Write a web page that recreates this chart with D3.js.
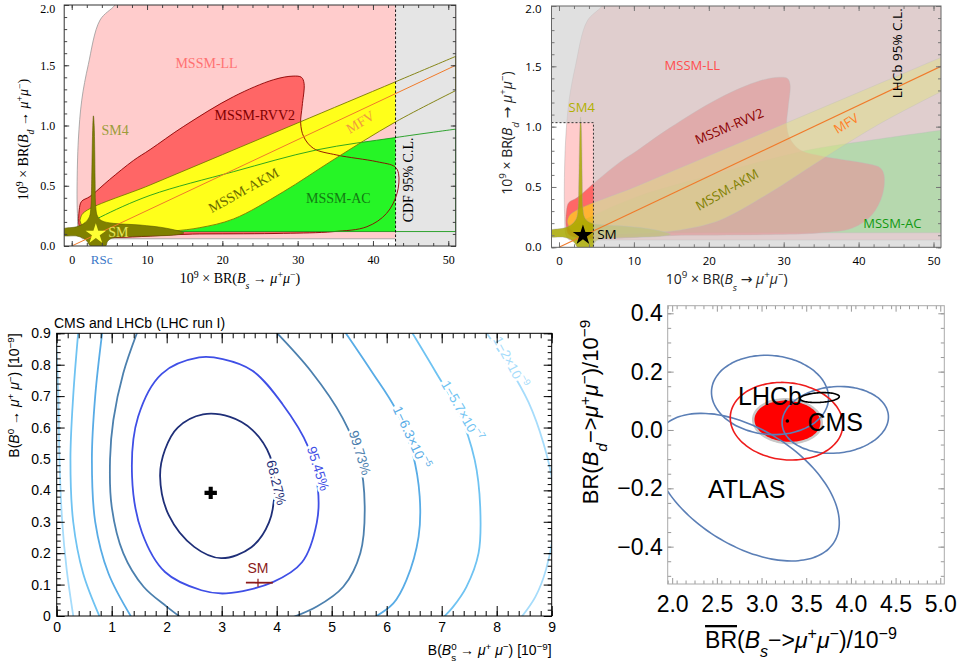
<!DOCTYPE html>
<html>
<head>
<meta charset="utf-8">
<script src="https://cdn.jsdelivr.net/npm/d3@7"></script>
<style>
  body { margin: 0; background: #fff; }
  svg { display: block; }
</style>
</head>
<body>
<svg id="chart" width="963" height="662"></svg>
<script>
"use strict";

// ---------- top panels: 10^9 BR(Bs->mumu) vs 10^9 BR(Bd->mumu) ----------
const llBoundary = [[6.6, 2.1], [5.75, 2.0], [3.76, 1.875], [2.2, 1.505], [1.33, 1.21], [0.88, 0.88],
                    [0.71, 0.49], [0.75, 0.27], [0.93, 0.105], [1.4, 0.06]];
const llBottom = 0.06;
const rvv2Outline = [[1.0, 0.16], [1.0, 0.30], [1.3, 0.37], [2.4, 0.41], [5, 0.55], [8.2, 0.71], [10.4, 0.80],
                     [14.8, 0.99], [21.5, 1.24], [26.8, 1.38], [29.4, 1.41], [30.5, 1.40], [30.85, 1.35],
                     [30.6, 1.16], [30.4, 1.02], [30.8, 0.907], [32.1, 0.81], [35.2, 0.755], [40.5, 0.70],
                     [42.9, 0.658], [43.4, 0.60], [43.2, 0.437], [41.8, 0.27], [39.2, 0.16], [34.7, 0.119],
                     [28.1, 0.105], [17, 0.1], [1.5, 0.097]];
const akmUpper = [[1.1, 0.21], [1.5, 0.272], [10.4, 0.506], [20, 0.758], [30, 1.021], [43, 1.363], [51, 1.574]];
const akmLower = [[51, 1.29], [43, 1.03], [34.7, 0.714], [28.1, 0.45], [21.5, 0.225], [17, 0.152],
                  [13.5, 0.125], [8, 0.11], [3, 0.115], [1.4, 0.15]];
const acUpper = [[1.2, 0.15], [3.8, 0.24], [10.4, 0.42], [21.5, 0.617], [32.5, 0.797], [43, 0.9], [51, 0.97]];
const acLower = [[51, 0.12], [1.5, 0.12]];
const sm4Outline = [[-1.2, 0.138], [0.66, 0.16], [1.77, 0.194], [2.35, 0.243], [2.55, 0.33], [2.65, 0.55],
                    [2.72, 0.8], [2.8, 1.0], [2.88, 1.08], [2.98, 1.0], [3.05, 0.8], [3.1, 0.55],
                    [3.19, 0.326], [3.41, 0.249], [3.98, 0.21], [5.53, 0.188], [9.07, 0.174], [12.6, 0.147],
                    [14.9, 0.108], [13.5, 0.091], [10.4, 0.083], [7.3, 0.077], [5.3, 0.064], [4.73, 0.036],
                    [4.5, 0.0], [2.5, 0.0], [2.08, 0.036], [1.55, 0.064], [0.66, 0.083], [-1.2, 0.091]];
const mfvLine = [[0, 0], [51, 1.5]];
const smPoint = [3.2, 0.1];
const cdfLimit = 43;
const lhcbBox = [4.6, 1.033];
const rscValue = 3.98;
const topXTicks = [0, 10, 20, 30, 40, 50];
const topYTicks = [0, 0.5, 1, 1.5, 2];

// ---------- bottom left: CMS+LHCb likelihood contours ----------
const c68 = [[2.66, 0.642], [3.15, 0.634], [3.56, 0.592], [3.88, 0.508], [3.96, 0.403], [3.86, 0.298],
             [3.54, 0.219], [2.99, 0.184], [2.5, 0.22], [2.04, 0.32], [1.88, 0.445], [1.97, 0.53], [2.2, 0.6]];
const c95 = [[2.59, 0.823], [3.02, 0.818], [3.56, 0.781], [4.1, 0.676], [4.57, 0.539], [4.75, 0.403],
             [4.73, 0.298], [4.46, 0.171], [3.93, 0.108], [3.08, 0.072], [2.63, 0.082], [1.97, 0.14],
             [1.55, 0.266], [1.37, 0.445], [1.48, 0.634], [1.91, 0.771]];
const c99Left = [[1.5, 0.92], [1.21, 0.773], [1.03, 0.624], [0.97, 0.5], [1.0, 0.348], [1.21, 0.2],
                 [1.58, 0.093], [2.0, 0.03], [2.3, -0.01]];
const c99Right = [[3.9, 0.92], [4.62, 0.78], [5.2, 0.63], [5.5, 0.5], [5.6, 0.35], [5.52, 0.2],
                  [5.21, 0.093], [4.73, 0.03], [4.2, -0.01]];
const c63Left = [[0.84, 0.92], [0.7, 0.7], [0.64, 0.5], [0.7, 0.3], [0.94, 0.136], [1.38, -0.01]];
const c63Right = [[5.18, 0.92], [5.72, 0.78], [6.17, 0.656], [6.47, 0.518], [6.6, 0.38], [6.58, 0.253],
                  [6.36, 0.115], [6.12, 0.04], [5.72, -0.01]];
const c57Left = [[0.4, 0.92], [0.3, 0.7], [0.25, 0.5], [0.3, 0.3], [0.48, 0.136], [0.8, -0.01]];
const c57Right = [[6.4, 0.92], [6.88, 0.78], [7.32, 0.645], [7.6, 0.497], [7.7, 0.348], [7.67, 0.2],
                  [7.45, 0.093], [7.21, 0.03], [7.0, -0.01]];
const c2Left = [[-0.02, 0.92], [0.03, 0.7], [0.05, 0.5], [0.1, 0.3], [0.18, 0.15], [0.31, -0.01]];
const c2Right = [[7.74, 0.92], [8.2, 0.8], [8.58, 0.68], [8.85, 0.55], [9.02, 0.42], [9.05, 0.3],
                 [8.9, 0.15], [8.7, 0.06], [8.42, -0.01]];
const bestFit = [2.8, 0.392];
const smBs = 3.66, smBsRange = [3.44, 3.93], smBd = 0.106;
const p3XTicks = [0, 1, 2, 3, 4, 5, 6, 7, 8, 9];
const p3YTicks = [0, 0.1, 0.2, 0.3, 0.4, 0.5, 0.6, 0.7, 0.8, 0.9];

// ---------- bottom right: experiment ellipses ----------
const atlasEll = {cx: 2.83, cy: -0.196, ax: 1.04, ay: 0.253, phase: 119};
const cmsEll = {cx: 3.825, cy: 0.0345, ax: 0.595, ay: 0.1145, phase: 85};
const lhcbEll = {cx: 3.095, cy: 0.12, ax: 0.655, ay: 0.136, phase: 94};
const combEll = {cx: 3.28, cy: 0.03, ax: 0.63, ay: 0.133, phase: 95};
const combCore = {cx: 3.29, cy: 0.03, ax: 0.383, ay: 0.075, phase: 94};
const smallEll = {cx: 3.65, cy: 0.111, ax: 0.22, ay: 0.017, phase: 78};
const combPoint = [3.289, 0.031];
const p4XTicks = [2, 2.5, 3, 3.5, 4, 4.5, 5];
const p4YTicks = [-0.4, -0.2, 0, 0.2, 0.4];

const svg = d3.select("#chart");
const defs = svg.append("defs");

const SERIF = "Liberation Serif, DejaVu Serif, serif";
const SANS = "Liberation Sans, Arial, sans-serif";
const OPEN = "Open Sans, DejaVu Sans, sans-serif";

function rich(t, parts) {
  parts.forEach(p => {
    const s = typeof p === "string" ? p : p[0];
    const k = typeof p === "string" ? "" : p[1];
    const ts = t.append("tspan").text(s);
    if (k.includes("i")) ts.attr("font-style", "italic");
    if (k.includes("^")) ts.attr("baseline-shift", "super").attr("font-size", "70%");
    if (k.includes("_")) ts.attr("baseline-shift", "sub").attr("font-size", "70%");
    if (k.includes("k")) ts.attr("dx", "-0.55em");
    if (k.includes("o")) ts.attr("text-decoration", "overline");
  });
}

function label(g, px, py, parts, o) {
  const t = g.append("text")
    .attr("transform", `translate(${px},${py})` + (o.rotate ? ` rotate(${o.rotate})` : ""))
    .attr("text-anchor", o.anchor || "middle")
    .attr("dominant-baseline", o.baseline || "central")
    .attr("font-family", o.font).attr("font-size", o.size)
    .attr("fill", o.color || "#000");
  if (o.weight) t.attr("font-weight", o.weight);
  if (o.halo) t.attr("stroke", "#fff").attr("stroke-width", o.halo).attr("paint-order", "stroke");
  rich(t, typeof parts === "string" ? [parts] : parts);
  return t;
}

function shape(sx, sy, pts, closed) {
  return d3.line().x(d => sx(d[0])).y(d => sy(d[1]))
    .curve(closed ? d3.curveCatmullRomClosed.alpha(0.5) : d3.curveCatmullRom.alpha(0.5))(pts);
}
// band: smooth upper edge (left->right), straight join, smooth lower edge (right->left)
function band(sx, sy, upper, lower) {
  return shape(sx, sy, upper, false) + "L" + shape(sx, sy, lower, false).slice(1) + "Z";
}

function clipFor(id, sx, sy) {
  defs.append("clipPath").attr("id", id).append("rect")
    .attr("x", sx.range()[0]).attr("y", sy.range()[1])
    .attr("width", sx.range()[1] - sx.range()[0]).attr("height", sy.range()[0] - sy.range()[1]);
  return `url(#${id})`;
}

function frameAxes(g, sx, sy, o) {
  const L = sx.range()[0], R = sx.range()[1], B = sy.range()[0], T = sy.range()[1];
  const ticks = (axis, tr, vals, len, fmt) => {
    const a = g.append("g").attr("transform", tr)
      .call(axis.tickValues(vals).tickSize(-len).tickPadding(o.pad).tickFormat(fmt || (() => "")));
    a.select(".domain").remove();
    a.attr("font-family", o.font).attr("font-size", o.fontSize);
    a.selectAll("line").attr("stroke", o.tickColor).attr("stroke-width", o.tickWidth || 1);
    a.selectAll("text").attr("fill", "#000");
    return a;
  };
  ticks(d3.axisBottom(sx), `translate(0,${B})`, o.xMinor, o.minorLen);
  ticks(d3.axisBottom(sx), `translate(0,${B})`, o.xMajor, o.majorLen, o.xFmt);
  ticks(d3.axisTop(sx), `translate(0,${T})`, o.xMinor, o.minorLen);
  ticks(d3.axisTop(sx), `translate(0,${T})`, o.xMajor, o.majorLen);
  ticks(d3.axisLeft(sy), `translate(${L},0)`, o.yMinor, o.minorLenY || o.minorLen);
  const yl = ticks(d3.axisLeft(sy), `translate(${L},0)`, o.yMajor, o.majorLenY || o.majorLen, o.yFmt);
  ticks(d3.axisRight(sy), `translate(${R},0)`, o.yMinor, o.minorLenY || o.minorLen);
  ticks(d3.axisRight(sy), `translate(${R},0)`, o.yMajor, o.majorLenY || o.majorLen);
  g.append("rect").attr("x", L).attr("y", T).attr("width", R - L).attr("height", B - T)
    .attr("fill", "none").attr("stroke", o.frameColor).attr("stroke-width", o.frameWidth || 1);
  return yl;
}

const brTitle = q => ["10", ["9", "^"], " × BR(", ["B", "i"], [q, "_i"], " → ", ["μ", "i"], ["+", "^"],
                      ["μ", "i"], ["−", "^"], ")"];

// ================= panel 1 (top left) =================
const x1 = d3.scaleLinear().domain([-1, 51]).range([64.2, 455.8]);
const y1 = d3.scaleLinear().domain([0, 2]).range([246, 5]);
const g1 = svg.append("g");
const c1 = g1.append("g").attr("clip-path", clipFor("clip1", x1, y1));

c1.append("path").attr("d", shape(x1, y1, llBoundary, false) +
    `L${x1(51)},${y1(llBottom)}L${x1(51)},${y1(2.1)}Z`).attr("fill", "#ffcccc");
c1.append("path").attr("d", shape(x1, y1, rvv2Outline, true)).attr("fill", "#ff6666");
c1.append("path").attr("d", band(x1, y1, acUpper, acLower)).attr("fill", "#26f526");
c1.append("path").attr("d", band(x1, y1, akmUpper, akmLower)).attr("fill", "#ffff1a");
c1.append("rect").attr("x", x1(cdfLimit)).attr("y", y1(2)).attr("width", x1(51) - x1(cdfLimit))
  .attr("height", y1(0) - y1(2)).attr("fill", "#e5e5e5");

c1.append("path").attr("d", shape(x1, y1, llBoundary, false) + `L${x1(cdfLimit)},${y1(llBottom)}`)
  .attr("fill", "none").attr("stroke", "#999").attr("stroke-width", 0.8);
c1.append("path").attr("d", shape(x1, y1, rvv2Outline, true))
  .attr("fill", "none").attr("stroke", "#8b0000").attr("stroke-width", 0.9);
c1.append("path").attr("d", band(x1, y1, acUpper, acLower))
  .attr("fill", "none").attr("stroke", "#1c9c1c").attr("stroke-width", 0.9);
c1.append("path").attr("d", band(x1, y1, akmUpper, akmLower))
  .attr("fill", "none").attr("stroke", "#7a7a00").attr("stroke-width", 0.9);
c1.append("path").attr("d", shape(x1, y1, sm4Outline, true))
  .attr("fill", "#808000").attr("stroke", "#5c5c00").attr("stroke-width", 0.6);
c1.append("path").attr("d", d3.line().x(d => x1(d[0])).y(d => y1(d[1]))(mfvLine))
  .attr("fill", "none").attr("stroke", "#f07a2a").attr("stroke-width", 1);
c1.append("line").attr("x1", x1(cdfLimit)).attr("x2", x1(cdfLimit)).attr("y1", y1(0)).attr("y2", y1(2))
  .attr("stroke", "#000").attr("stroke-width", 0.9).attr("stroke-dasharray", "2.5,2");
c1.append("path").attr("d", d3.symbol(d3.symbolStar, 130)())
  .attr("transform", `translate(${x1(smPoint[0])},${y1(smPoint[1])})`).attr("fill", "#ffff33");

label(g1, x1(17.9), y1(1.516), "MSSM-LL", {font: SERIF, size: 14, color: "#ff7272"});
label(g1, x1(24.3), y1(1.087), "MSSM-RVV2", {font: SERIF, size: 14, color: "#800000"});
label(g1, x1(5.75), y1(0.963), "SM4", {font: SERIF, size: 14, color: "#9c9c3a"});
label(g1, x1(38.3), y1(1.03), "MFV", {font: SERIF, size: 14, color: "#f09a40", rotate: -31});
label(g1, x1(22.8), y1(0.465), "MSSM-AKM", {font: SERIF, size: 14, color: "#6b6b00", rotate: -29});
label(g1, x1(35.4), y1(0.40), "MSSM-AC", {font: SERIF, size: 14, color: "#137a13"});
label(g1, x1(44.6), y1(0.548), "CDF 95% C.L.", {font: SERIF, size: 14, color: "#000", rotate: -90});
label(g1, x1(6.2), y1(0.119), "SM", {font: SERIF, size: 14, color: "#e6e65a"});

frameAxes(g1, x1, y1, {
  xMajor: topXTicks, xMinor: d3.range(0, 52, 2), yMajor: topYTicks, yMinor: d3.range(0, 2.01, 0.1),
  majorLen: 5, minorLen: 3, pad: 9, font: SERIF, fontSize: 12, tickColor: "#444", frameColor: "#333",
  xFmt: d3.format("d"), yFmt: d3.format(".1f")
}).selectAll(".tick text").filter(d => d === 2).attr("dy", "0.6em");
g1.append("text").attr("x", x1(rscValue)).attr("y", 263.6).attr("text-anchor", "middle")
  .attr("font-family", SERIF).attr("font-size", 13).attr("fill", "#3a78c8").text("RSc");
label(g1, 240, 283, brTitle("s"), {font: SERIF, size: 14, baseline: "alphabetic"});
label(g1, 28, 139.5, brTitle("d"), {font: SERIF, size: 14, baseline: "alphabetic", rotate: -90});

// ================= panel 2 (top right) =================
const x2 = d3.scaleLinear().domain([-1, 51]).range([551.5, 941]);
const y2 = d3.scaleLinear().domain([0, 2]).range([247.3, 6]);
const g2 = svg.append("g");
const c2 = g2.append("g").attr("clip-path", clipFor("clip2", x2, y2));
const soft = sel => sel.attr("stroke", "#999").attr("stroke-opacity", 0.45).attr("stroke-width", 0.8);

soft(c2.append("path").attr("d", shape(x2, y2, llBoundary, false) +
    `L${x2(52)},${y2(llBottom)}L${x2(52)},${y2(2.1)}Z`).attr("fill", "#ffcccc"));
soft(c2.append("path").attr("d", band(x2, y2, acUpper, acLower)).attr("fill", "#22ff22").attr("fill-opacity", 0.55));
soft(c2.append("path").attr("d", shape(x2, y2, rvv2Outline, true)).attr("fill", "#ff4040").attr("fill-opacity", 0.72));
soft(c2.append("path").attr("d", band(x2, y2, akmUpper, akmLower)).attr("fill", "#ffff00").attr("fill-opacity", 0.5));
soft(c2.append("path").attr("d", shape(x2, y2, sm4Outline, true)).attr("fill", "#a8a800").attr("fill-opacity", 0.85));

const L2 = x2.range()[0], R2 = x2.range()[1], B2 = y2.range()[0], T2 = y2.range()[1];
c2.append("path")
  .attr("d", `M${L2},${T2}H${R2}V${B2}H${L2}Z M${L2},${y2(lhcbBox[1])}H${x2(lhcbBox[0])}V${B2}H${L2}Z`)
  .attr("fill", "#cfcfcf").attr("fill-opacity", 0.65).attr("fill-rule", "evenodd");
c2.append("path").attr("d", d3.line().x(d => x2(d[0])).y(d => y2(d[1]))(mfvLine))
  .attr("fill", "none").attr("stroke", "#f07a2a").attr("stroke-width", 1.1);
c2.append("path").attr("d", `M${L2},${y2(lhcbBox[1])}H${x2(lhcbBox[0])}V${B2}`)
  .attr("fill", "none").attr("stroke", "#333").attr("stroke-width", 1).attr("stroke-dasharray", "2,2");
c2.append("path").attr("d", d3.symbol(d3.symbolStar, 130)())
  .attr("transform", `translate(${x2(smPoint[0])},${y2(smPoint[1])})`).attr("fill", "#000");

label(g2, x2(17.8), y2(1.511), "MSSM-LL", {font: OPEN, size: 13, color: "#ff4d4d"});
label(g2, x2(22.7), y2(1.005), "MSSM-RVV2", {font: OPEN, size: 13, color: "#8b0000", rotate: -23});
label(g2, x2(38.3), y2(1.028), "MFV", {font: OPEN, size: 13, color: "#ff7f27", rotate: -31});
label(g2, x2(22.4), y2(0.48), "MSSM-AKM", {font: OPEN, size: 13, color: "#808000", rotate: -29.5});
label(g2, x2(44.5), y2(0.204), "MSSM-AC", {font: OPEN, size: 13, color: "#119911"});
label(g2, x2(45.1), y2(1.608), "LHCb 95% C.L.", {font: OPEN, size: 13.5, color: "#000", rotate: -90});
label(g2, x2(3.03), y2(1.165), "SM4", {font: OPEN, size: 13, color: "#b0b000"});
label(g2, x2(5.1), y2(0.108), "SM", {font: OPEN, size: 13.5, color: "#000", anchor: "start"});

frameAxes(g2, x2, y2, {
  xMajor: topXTicks, xMinor: d3.range(0, 52, 2), yMajor: topYTicks, yMinor: d3.range(0, 2.01, 0.1),
  majorLen: 5, minorLen: 3, pad: 10, font: OPEN, fontSize: 11.5, tickColor: "#777", frameColor: "#666",
  xFmt: d3.format("d"), yFmt: d3.format(".1f")
}).selectAll(".tick text").filter(d => d === 2).attr("dy", "0.6em");
label(g2, 726.7, 284, brTitle("s"), {font: OPEN, size: 14, baseline: "alphabetic", color: "#222"});
label(g2, 512, 133, brTitle("d"), {font: OPEN, size: 14, baseline: "alphabetic", rotate: -90, color: "#222"});

// ================= panel 3 (bottom left) =================
const x3 = d3.scaleLinear().domain([0, 9]).range([56.7, 551.7]);
const y3 = d3.scaleLinear().domain([0, 0.9]).range([616, 333.3]);
const g3 = svg.append("g");
const c3 = g3.append("g").attr("clip-path", clipFor("clip3", x3, y3));
const contour = (pts, closed, color) => c3.append("path").attr("d", shape(x3, y3, pts, closed))
  .attr("fill", "none").attr("stroke", color).attr("stroke-width", 1.8);

const col2 = "#a6dcfb", col57 = "#6fc3f2", col63 = "#58ace6", col99 = "#4c80ae", col95 = "#3f4fe6", col68 = "#1f2f78";
[c2Left, c2Right].forEach(p => contour(p, false, col2));
[c57Left, c57Right].forEach(p => contour(p, false, col57));
[c63Left, c63Right].forEach(p => contour(p, false, col63));
[c99Left, c99Right].forEach(p => contour(p, false, col99));
contour(c95, true, col95);
contour(c68, true, col68);

c3.append("path").attr("d", d3.symbol(d3.symbolCross, 85)())
  .attr("transform", `translate(${x3(bestFit[0])},${y3(bestFit[1])})`).attr("fill", "#000");
c3.append("line").attr("x1", x3(smBsRange[0])).attr("x2", x3(smBsRange[1]))
  .attr("y1", y3(smBd)).attr("y2", y3(smBd)).attr("stroke", "#8b1a1a").attr("stroke-width", 1.8);
c3.append("line").attr("x1", x3(smBs)).attr("x2", x3(smBs))
  .attr("y1", y3(smBd) - 4).attr("y2", y3(smBd) + 4).attr("stroke", "#8b1a1a").attr("stroke-width", 1.2);
label(g3, x3(smBs), y3(0.152), "SM", {font: SANS, size: 14, color: "#8b1a1a"});

const cl = {font: SANS, size: 13.5, halo: 5};
label(g3, x3(4.0), y3(0.425), "68.27%", {...cl, color: col68, rotate: 76});
label(g3, x3(4.76), y3(0.47), "95.45%", {...cl, color: col95, rotate: 72});
label(g3, x3(5.52), y3(0.52), "99.73%", {...cl, color: col99, rotate: 73});
label(g3, x3(6.45), y3(0.569), ["1−6.3×10", ["−5", "^"]], {...cl, color: col63, rotate: 65});
label(g3, x3(7.37), y3(0.653), ["1−5.7×10", ["−7", "^"]], {...cl, color: col57, rotate: 60});
label(g3, x3(8.25), y3(0.808), ["1−2×10", ["−9", "^"]], {...cl, color: col2, rotate: 62});

frameAxes(g3, x3, y3, {
  xMajor: p3XTicks, xMinor: d3.range(0, 9.01, 0.2), yMajor: p3YTicks, yMinor: d3.range(0, 0.901, 0.02),
  majorLen: 10, minorLen: 5, majorLenY: 8, minorLenY: 4, pad: 6, font: SANS, fontSize: 14,
  tickColor: "#000", frameColor: "#000",
  xFmt: d3.format("d"), yFmt: d => d === 0 ? "0" : d.toFixed(1)
});
g3.append("text").attr("x", 54).attr("y", 328).attr("font-family", SANS).attr("font-size", 14)
  .text("CMS and LHCb (LHC run I)");
label(g3, 551.7, 655, ["B(", ["B", "i"], ["0", "^"], ["s", "_k"], " → ", ["μ", "i"], ["+", "^"], " ",
  ["μ", "i"], ["−", "^"], ") [10", ["−9", "^"], "]"],
  {font: SANS, size: 14, baseline: "alphabetic", anchor: "end"});
label(g3, 19, 333.3, ["B(", ["B", "i"], ["0", "^"], " → ", ["μ", "i"], ["+", "^"], " ", ["μ", "i"], ["−", "^"],
  ") [10", ["−9", "^"], "]"], {font: SANS, size: 14, baseline: "alphabetic", anchor: "end", rotate: -90});

// ================= panel 4 (bottom right) =================
const x4 = d3.scaleLinear().domain([1.95, 5.045]).range([667.7, 944.3]);
const y4 = d3.scaleLinear().domain([-0.528, 0.426]).range([584, 305.7]);
const g4 = svg.append("g");
const c4 = g4.append("g").attr("clip-path", clipFor("clip4", x4, y4));
const ellPts = e => d3.range(0, 360, 4).map(t => {
  const a = t * Math.PI / 180;
  return [e.cx + e.ax * Math.cos(a), e.cy + e.ay * Math.cos(a + e.phase * Math.PI / 180)];
});
const ell = (e, fill, stroke, w) => c4.append("path").attr("d", shape(x4, y4, ellPts(e), true))
  .attr("fill", fill).attr("stroke", stroke).attr("stroke-width", w);

ell(combCore, "#ff0000", "#c8c8c8", 2.5);
ell(atlasEll, "none", "#5b7fb6", 1.6);
ell(cmsEll, "none", "#5b7fb6", 1.6);
ell(lhcbEll, "none", "#5b7fb6", 1.6);
ell(combEll, "none", "#ee1c1c", 1.6);
c4.append("circle").attr("cx", x4(combPoint[0])).attr("cy", y4(combPoint[1])).attr("r", 1.8).attr("fill", "#000");

label(g4, x4(3.095), y4(0.117), "LHCb", {font: SANS, size: 25});
ell(smallEll, "none", "#000", 1.6);
label(g4, x4(3.825), y4(0.028), "CMS", {font: SANS, size: 25});
label(g4, x4(2.834), y4(-0.202), "ATLAS", {font: SANS, size: 25});

frameAxes(g4, x4, y4, {
  xMajor: p4XTicks, xMinor: d3.range(1.95, 5.05, 0.1).map(d => +d.toFixed(2)),
  yMajor: p4YTicks, yMinor: d3.range(-0.5, 0.43, 0.05).map(d => +d.toFixed(2)),
  majorLen: 6, minorLen: 3.5, pad: 12, font: SANS, fontSize: 23, tickColor: "#999", frameColor: "#aaa",
  xFmt: d3.format(".1f"), yFmt: d => (d < 0 ? "−" : "") + Math.abs(d).toFixed(1)
}).selectAll(".tick text").attr("x", -5);
label(g4, 801, 648, [["BR", "o"], "(", ["B", "i"], ["s", "_i"], "−>", ["μ", "i"], ["+", "^"], ["μ", "i"], ["−", "^"],
  ")/10", ["−9", "^"]], {font: SANS, size: 23, baseline: "alphabetic"});
label(g4, 598, 412, ["BR(", ["B", "i"], ["d", "_i"], "−>", ["μ", "i"], ["+", "^"], ["μ", "i"], ["−", "^"],
  ")/10", ["−9", "^"]], {font: SANS, size: 22, baseline: "alphabetic", rotate: -90});
</script>
</body>
</html>
